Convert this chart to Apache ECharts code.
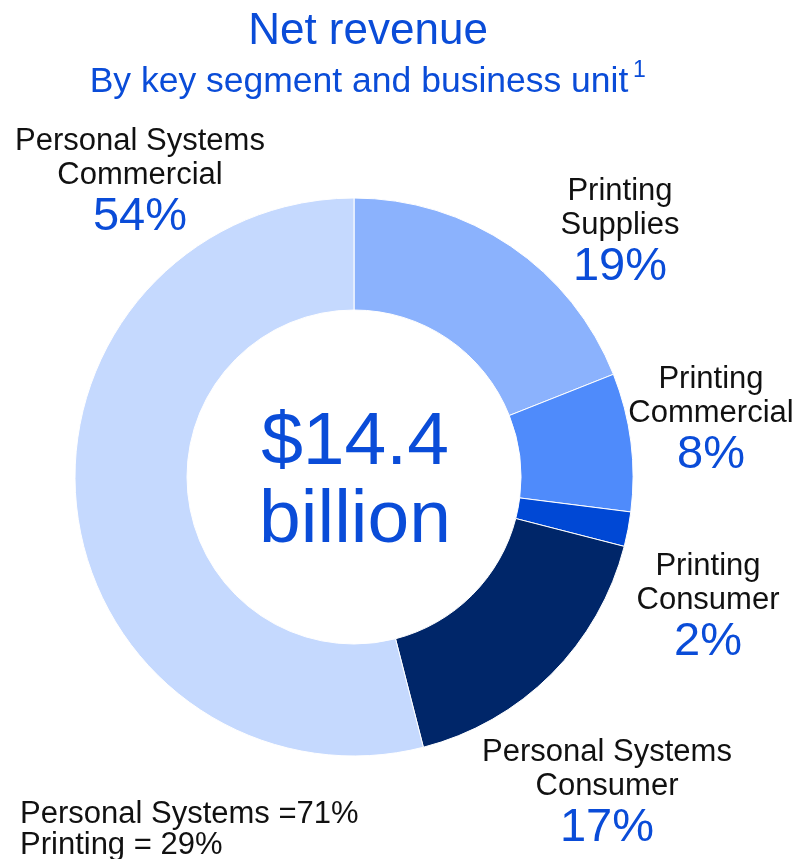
<!DOCTYPE html>
<html>
<head>
<meta charset="utf-8">
<script src="https://cdn.jsdelivr.net/npm/echarts@6/dist/echarts.min.js"></script>
<style>
  html, body { margin: 0; padding: 0; background: #fff; }
  #chart { width: 803px; height: 859px; }
</style>
</head>
<body>
<div id="chart"></div>
<script>
// Net revenue share by business unit (percent), clockwise from 12 o'clock
const categories = [
  'Printing Supplies',
  'Printing Commercial',
  'Printing Consumer',
  'Personal Systems Consumer',
  'Personal Systems Commercial'
];
const shares = [19, 8, 2, 17, 54];
const sliceColors = ['#8BB2FD', '#4F8BFB', '#0048D5', '#002669', '#C5D9FE'];

const titleText = 'Net revenue';
const subtitleText = 'By key segment and business unit';
const footnoteMark = '1';
const centerLines = ['$14.4', 'billion'];
const segmentTotals = ['Personal Systems =71%', 'Printing = 29%'];

const BLUE = '#0A4CD8';
const FONT = '"Liberation Sans", Arial, sans-serif';

// Label block anchors (center x, vertical center of first line) per slice
const labelAnchors = [
  [620, 191],
  [711, 379],
  [708, 566],
  [607, 752],
  [140, 141]
];

function splitName(name) {
  const i = name.lastIndexOf(' ');
  return [name.slice(0, i), name.slice(i + 1)];
}

const graphics = [];

graphics.push({
  type: 'text', x: 368, y: 32,
  style: { text: titleText, font: '44px ' + FONT, fill: BLUE, align: 'center', verticalAlign: 'middle' }
});
graphics.push({
  type: 'text', x: 359, y: 82,
  style: { text: subtitleText, font: '35.5px ' + FONT, fill: BLUE, align: 'center', verticalAlign: 'middle' }
});
graphics.push({
  type: 'text', x: 633, y: 71,
  style: { text: footnoteMark, font: '23px ' + FONT, fill: BLUE, align: 'left', verticalAlign: 'middle' }
});

categories.forEach(function (name, i) {
  const lines = splitName(name);
  const a = labelAnchors[i];
  lines.forEach(function (ln, k) {
    graphics.push({
      type: 'text', x: a[0], y: a[1] + k * 34,
      style: { text: ln, font: '31px ' + FONT, fill: '#111', align: 'center', verticalAlign: 'middle' }
    });
  });
  graphics.push({
    type: 'text', x: a[0], y: a[1] + 76,
    style: { text: shares[i] + '%', font: '47px ' + FONT, fill: BLUE, align: 'center', verticalAlign: 'middle' }
  });
});

centerLines.forEach(function (ln, k) {
  graphics.push({
    type: 'text', x: 355, y: 443 + k * 78,
    style: { text: ln, font: '75px ' + FONT, fill: BLUE, align: 'center', verticalAlign: 'middle' }
  });
});

segmentTotals.forEach(function (ln, k) {
  graphics.push({
    type: 'text', x: 20, y: 814 + k * 31,
    style: { text: ln, font: '31px ' + FONT, fill: '#111', align: 'left', verticalAlign: 'middle' }
  });
});

const chart = echarts.init(document.getElementById('chart'), null, { renderer: 'canvas' });
chart.setOption({
  animation: false,
  backgroundColor: '#ffffff',
  series: [{
    type: 'pie',
    center: [354, 477],
    radius: [167, 279],
    startAngle: 90,
    clockwise: true,
    avoidLabelOverlap: false,
    label: { show: false },
    labelLine: { show: false },
    emphasis: { disabled: true },
    itemStyle: { borderColor: '#ffffff', borderWidth: 1 },
    data: categories.map(function (name, i) {
      return { name: name, value: shares[i], itemStyle: { color: sliceColors[i] } };
    })
  }],
  graphic: graphics
});
</script>
</body>
</html>
